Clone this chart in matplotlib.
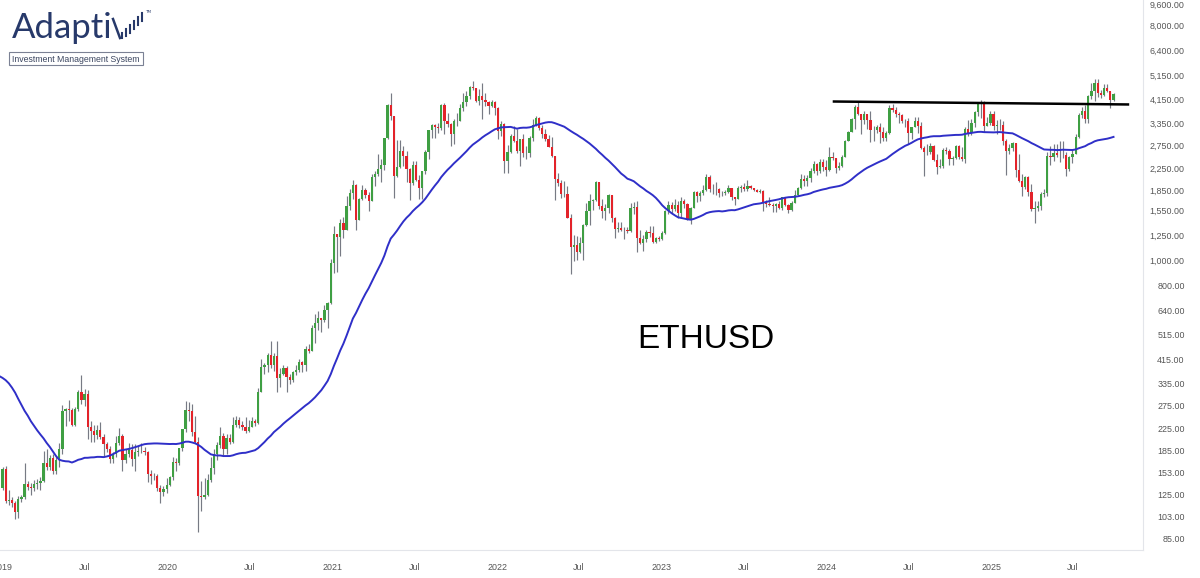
import numpy as np
import pandas as pd
import matplotlib
matplotlib.use("Agg")
import matplotlib.pyplot as plt
import matplotlib.dates as mdates
from matplotlib.patches import Rectangle
from matplotlib.lines import Line2D

# weekly ETHUSD candles, weeks start on monday 2018-12-31
first_open = 133

close_2019 = [157,118,119,116,107,121,123,137,134,133,137,139,141,166,160,173,155,170,187,262,
              268,265,232,268,310,290,306,228,220,212,222,209,196,188,172,180,197,211,170,180,
              186,171,182,184,184,183,150,148,148,133,128,132]
high_2019 = [160,162,131,123,118,124,125,165,141,139,142,144,146,185,187,178,180,176,198,276,
             270,289,270,272,316,362,320,315,240,232,232,238,214,199,192,182,210,225,215,187,
             197,196,196,193,198,191,184,156,152,151,136,135]
low_2019 = [131,116,114,112,101,102,117,121,131,125,129,132,131,140,156,156,150,150,160,180,
            230,240,230,230,262,280,275,205,200,200,205,205,175,182,165,165,175,195,154,165,
            175,161,155,176,181,178,140,137,143,129,116,124]

close_2020 = [136,146,167,165,189,223,265,262,218,200,124,123,125,143,158,180,195,211,187,207,
              200,231,242,232,228,220,228,240,236,310,387,395,433,395,428,353,366,385,355,346,
              370,377,406,396,453,447,550,575,600,590,640,685]
high_2020 = [145,148,175,173,190,224,288,285,280,252,208,141,145,150,175,187,200,227,216,215,
             215,250,252,250,240,248,242,250,245,322,415,400,440,490,440,487,385,395,390,365,
             375,395,418,410,465,475,560,620,635,600,670,690]
low_2020 = [127,135,143,155,163,185,218,240,210,198,90,108,120,124,140,150,170,190,178,180,
            196,198,228,225,222,217,218,228,230,234,310,365,370,385,375,310,325,360,310,335,
            340,360,370,370,375,440,445,480,540,530,580,550]

close_2021 = [975,1255,1230,1390,1310,1610,1810,1935,1420,1720,1855,1785,1690,2080,2140,2240,2310,2950,3930,3580,
              2100,2270,2630,2510,2240,1980,2320,2030,1895,2190,2610,3160,3310,3240,3225,3930,3410,3330,3060,3420,
              3420,3845,4050,4290,4610,4570,4090,4290,4120,4060,3920,4060]
high_2021 = [1010,1350,1260,1440,1470,1760,1870,2040,1960,1735,1950,1890,1820,2150,2200,2550,2450,2950,3970,4380,
             3580,2900,2890,2750,2620,2260,2400,2400,2130,2200,2650,3170,3340,3330,3370,3970,4030,3680,3370,3480,
             3670,3970,4370,4460,4670,4870,4580,4550,4780,4380,4080,4140]
low_2021 = [680,890,900,1040,1220,1300,1560,1710,1300,1420,1700,1730,1550,1690,1930,2100,2000,2220,2920,3450,
            1730,2080,2250,2300,2000,1700,1950,2020,1720,1720,2150,2450,2950,2950,3080,3170,3050,3260,2740,2800,
            3280,3420,3730,3900,4150,4500,4060,3950,3500,3900,3650,3890]

close_2022 = [3830,3140,3330,2410,2600,3010,2880,2630,2920,2570,2580,2940,3300,3520,3230,3060,2920,2730,2520,2050,
              1970,1790,1800,1450,1120,1140,1075,1160,1360,1550,1680,1700,1990,1610,1550,1580,1780,1450,1320,1330,
              1300,1310,1290,1590,1600,1220,1160,1200,1280,1270,1170,1220]
high_2022 = [4100,3880,3410,3370,2760,3040,3280,3200,2930,3050,2740,3000,3480,3580,3550,3300,3180,3030,2970,2520,
             2160,2030,2020,1920,1500,1250,1240,1230,1370,1650,1790,1720,2020,1990,1710,1640,1790,1780,1460,1400,
             1400,1340,1340,1650,1670,1680,1300,1250,1300,1350,1350,1230]
low_2022 = [3620,2930,3000,2160,2160,2580,2850,2580,2300,2500,2450,2500,2870,3280,3150,2950,2880,2720,2480,1700,
            1930,1730,1740,1450,880,990,1000,1060,1000,1350,1360,1560,1690,1570,1450,1420,1520,1400,1220,1280,
            1290,1200,1270,1280,1500,1070,1150,1080,1170,1230,1160,1160]

close_2023 = [1200,1265,1550,1630,1570,1630,1515,1690,1640,1440,1590,1820,1760,1810,1860,2090,1870,1870,1870,1810,
              1805,1830,1890,1740,1720,1890,1910,1870,1930,1890,1860,1830,1850,1670,1640,1630,1620,1640,1590,1740,
              1630,1560,1660,1780,1890,2050,2010,2060,2200,2340,2200,2380]
high_2023 = [1240,1290,1560,1680,1670,1710,1680,1740,1720,1660,1600,1840,1840,1850,1950,2140,2130,1960,2000,1900,
             1840,1860,1940,1890,1750,1930,1950,1970,2030,1950,1900,1870,1870,1860,1700,1750,1650,1650,1680,1750,
             1750,1640,1680,1860,1910,2140,2130,2130,2250,2400,2360,2450]
low_2023 = [1180,1190,1260,1500,1520,1540,1450,1460,1580,1420,1370,1580,1670,1680,1780,1850,1830,1800,1780,1740,
            1770,1780,1810,1700,1630,1720,1830,1840,1850,1880,1840,1820,1810,1550,1600,1620,1530,1530,1570,1560,
            1620,1520,1540,1650,1760,1870,1930,1930,2000,2160,2130,2160]

close_2024 = [2280,2220,2500,2460,2260,2290,2500,2880,3110,3490,3880,3640,3450,3650,3450,3150,3150,3250,3110,2940,
              3070,3830,3780,3660,3620,3420,3440,3070,3250,3440,3290,2690,2610,2610,2750,2430,2270,2300,2650,2630,
              2440,2460,2750,2480,2450,3180,3070,3360,3710,3990,4000,3280,3350]
high_2024 = [2450,2420,2720,2610,2470,2390,2540,2900,3130,3520,3960,4090,3650,3730,3660,3730,3280,3300,3350,3240,
             3130,3950,3980,3890,3710,3640,3500,3520,3260,3560,3540,3400,2740,2790,2820,2780,2560,2450,2700,2720,
             2670,2510,2770,2770,2720,3240,3450,3500,3740,4000,4110,4100,3550]
low_2024 = [2200,2100,2200,2420,2160,2210,2280,2500,2860,3100,3200,3600,3060,3330,3200,2850,2870,3070,2810,2860,
            2870,3040,3700,3550,3360,3360,3250,2800,2920,3240,3080,2680,2110,2540,2550,2400,2150,2260,2260,2560,
            2310,2330,2450,2440,2410,2360,3010,3030,3250,3580,3520,3100,3300]

close_2025 = [3660,3270,3310,3320,2870,2630,2690,2820,2220,2010,1910,2080,1820,1570,1580,1620,1800,1810,2510,2490,
              2570,2530,2530,2530,2230,2500,2560,2960,3600,3730,3490,4260,4480,4780,4390,4300,4600,4480,4140,4350]
high_2025 = [3740,3750,3450,3500,3430,2930,2800,2850,2830,2550,2150,2100,2100,1960,1690,1690,1830,1870,2600,2740,
             2790,2790,2880,2880,2600,2520,2640,3050,3670,3870,3940,4330,4790,4960,4950,4490,4770,4770,4480,4400]
low_2025 = [3310,3160,3040,3150,2760,2120,2550,2620,2080,2000,1760,1880,1770,1540,1385,1540,1560,1750,1770,2320,
            2400,2480,2380,2460,2110,2200,2370,2550,2950,3510,3350,3370,4180,4080,4220,4200,4270,4430,3830,4100]

# 2018 closes, only needed to warm up the 40 week average
warmup_2018 = [380,400,500,615,670,790,730,700,575,620,520,500,455,455,490,450,460,465,405,320,
               300,275,295,195,220,245,232,225,198,205,195,210,210,150,115,90,85,100,130,133]

# trend line drawn on the chart
trend_dates = ["2024-01-18", "2025-10-31"]
trend_prices = [4070, 3965]

price_ticks = [9600, 8000, 6400, 5150, 4150, 3350, 2750, 2250, 1850, 1550, 1250, 1000,
               800, 640, 515, 415, 335, 275, 225, 185, 153, 125, 103, 85]

closes = np.array(close_2019 + close_2020 + close_2021 + close_2022 + close_2023 + close_2024 + close_2025, float)
highs = np.array(high_2019 + high_2020 + high_2021 + high_2022 + high_2023 + high_2024 + high_2025, float)
lows = np.array(low_2019 + low_2020 + low_2021 + low_2022 + low_2023 + low_2024 + low_2025, float)
opens = np.concatenate([[first_open], closes[:-1]])
highs = np.maximum(highs, np.maximum(opens, closes))
lows = np.minimum(lows, np.minimum(opens, closes))

weeks = pd.date_range("2018-12-31", periods=len(closes), freq="7D")
x = mdates.date2num(weeks)

all_c = pd.Series(warmup_2018 + list(closes))
ma = all_c.rolling(40).mean().to_numpy()[39:]
ma_x = mdates.date2num(pd.date_range("2018-12-24", periods=len(ma), freq="7D"))

W, H = 1200, 578
fig = plt.figure(figsize=(W / 100, H / 100), dpi=100)
fig.patch.set_facecolor("white")
ax = fig.add_axes([0, 28 / H, 1143 / W, 550 / H])

green = "#3f9f43"
red = "#e3232a"
wick = "#777a84"

ax.vlines(x, lows, highs, color=wick, lw=0.85, zorder=2)
up = closes >= opens
ax.bar(x[up], (closes - opens)[up], bottom=opens[up], width=5.0, color=green, lw=0, zorder=3)
ax.bar(x[~up], (opens - closes)[~up], bottom=closes[~up], width=5.0, color=red, lw=0, zorder=3)

ax.plot(ma_x, ma, color="#2f2fc8", lw=1.4, zorder=4)
ax.plot(mdates.date2num(pd.to_datetime(trend_dates)), trend_prices, color="black", lw=1.8, zorder=5)

ax.set_yscale("log")
ax.set_ylim(76.7, 10000)
x0 = mdates.date2num(pd.Timestamp("2018-12-31")) - 2.5 / 0.4509
x1 = mdates.date2num(pd.Timestamp("2018-12-31")) + (1143 - 2.5) / 0.4509
ax.set_xlim(x0, x1)

# time axis
tick_d, tick_l = [], []
for yr in range(2019, 2026):
    tick_d += [pd.Timestamp(f"{yr}-01-01"), pd.Timestamp(f"{yr}-07-01")]
    tick_l += [str(yr), "Jul"]
ax.set_xticks(mdates.date2num(tick_d))
ax.set_xticklabels(tick_l)
ax.tick_params(axis="x", length=0, pad=9, labelsize=6.4, colors="#555555")

# price axis
ax.yaxis.tick_right()
ax.yaxis.set_minor_locator(matplotlib.ticker.NullLocator())
ax.set_yticks(price_ticks)
ax.set_yticklabels([f"{v:,.2f}" for v in price_ticks])
ax.tick_params(axis="y", length=0, pad=30, labelsize=6.4, colors="#555555")
for lab in ax.get_yticklabels():
    lab.set_horizontalalignment("right")

for lab in ax.get_xticklabels() + ax.get_yticklabels():
    lab.set_family(["Liberation Sans", "DejaVu Sans"])

for s in ["top", "left"]:
    ax.spines[s].set_visible(False)
for s in ["right", "bottom"]:
    ax.spines[s].set_color("#e3e5ea")
    ax.spines[s].set_linewidth(0.8)


def fp(px, py):
    return px / W, 1 - py / H


navy = "#27396a"
fig.text(*fp(12, 38), "Adapti", fontsize=25, family=["Lato", "DejaVu Sans"], weight="normal",
         color=navy, va="baseline", ha="left")
# the "v" drawn as rising bars
fig.add_artist(Line2D(*zip(fp(113, 19), fp(120, 38)), transform=fig.transFigure, color=navy, lw=1.8))
for bx, top, bot in [(122, 33, 38), (126, 29, 36), (130, 25, 33), (134, 21, 29), (138, 17, 25), (142, 13, 21)]:
    fig.add_artist(Line2D(*zip(fp(bx, top), fp(bx, bot)), transform=fig.transFigure, color=navy, lw=1.5))
fig.text(*fp(145, 13), "TM", fontsize=3, color=navy, va="baseline")
bx0, by0 = fp(9, 65)
fig.add_artist(Rectangle((bx0, by0), 134 / W, 13 / H, transform=fig.transFigure,
                         fill=False, edgecolor="#7b8194", lw=0.8))
fig.text(*fp(76, 59), "Investment Management System", fontsize=6.3,
         family=["Liberation Sans", "DejaVu Sans"], color="#3b4660", ha="center", va="center")

fig.text(*fp(706, 348), "ETHUSD", fontsize=24, family=["Liberation Sans", "DejaVu Sans"],
         color="black", ha="center", va="baseline")

fig.savefig("out.png", dpi=100)
